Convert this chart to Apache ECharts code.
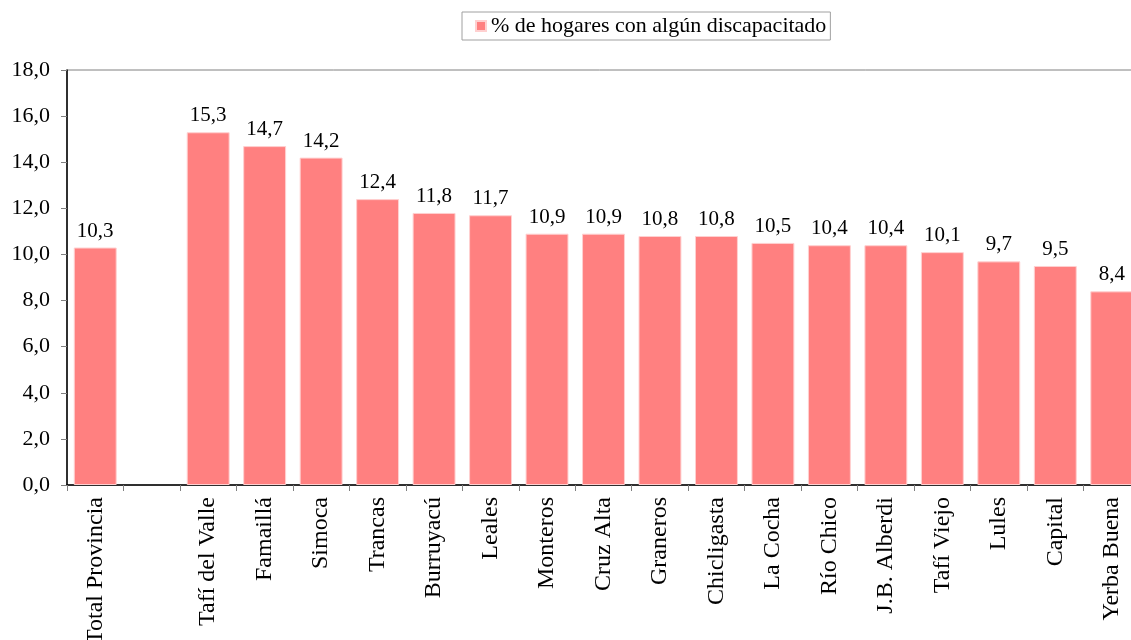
<!DOCTYPE html>
<html>
<head>
<meta charset="utf-8">
<script src="https://cdn.jsdelivr.net/npm/echarts@6/dist/echarts.min.js"></script>
<style>html,body{margin:0;padding:0;background:#fff;}#c{width:1131px;height:640px;}</style>
</head>
<body>
<div id="c"></div>
<script>
const categories = ['Total Provincia', '', 'Tafí del Valle', 'Famaillá', 'Simoca', 'Trancas', 'Burruyacú', 'Leales', 'Monteros', 'Cruz Alta', 'Graneros', 'Chicligasta', 'La Cocha', 'Río Chico', 'J.B. Alberdi', 'Tafí Viejo', 'Lules', 'Capital', 'Yerba Buena'];
const values = [10.3, null, 15.3, 14.7, 14.2, 12.4, 11.8, 11.7, 10.9, 10.9, 10.8, 10.8, 10.5, 10.4, 10.4, 10.1, 9.7, 9.5, 8.4];
const seriesName = '% de hogares con algún discapacitado';

const font = 'Liberation Serif, Times New Roman, serif';
const fmt = v => Number(v).toFixed(1).replace('.', ',');
const chart = echarts.init(document.getElementById('c'), null, {renderer: 'canvas'});
chart.setOption({
  animation: false,
  backgroundColor: '#fff',
  textStyle: {fontFamily: font},
  legend: {
    left: 462, top: 12,
    padding: [3, 4, 3, 13],
    borderColor: '#a0a0a0', borderWidth: 1,
    itemWidth: 10, itemHeight: 10,
    itemGap: 6,
    textStyle: {fontFamily: font, fontSize: 22, color: '#000'},
    data: [{name: seriesName, icon: 'rect'}]
  },
  grid: {left: 67, top: 70, right: -9, bottom: 155, show: true, borderColor: '#808080', borderWidth: 1, outerBoundsMode: 'none', containLabel: false},
  xAxis: {
    type: 'category',
    data: categories,
    axisLine: {lineStyle: {color: '#000', width: 1.5}},
    axisTick: {show: true, alignWithLabel: false, length: 6, lineStyle: {color: '#808080'}},
    axisLabel: {rotate: 90, interval: 0, fontFamily: font, fontSize: 24, color: '#000', margin: 12}
  },
  yAxis: {
    type: 'value',
    min: 0, max: 18, interval: 2,
    axisLine: {show: true, lineStyle: {color: '#000', width: 1.5}},
    axisTick: {show: true, length: 6, lineStyle: {color: '#808080'}},
    splitLine: {show: false},
    axisLabel: {fontFamily: font, fontSize: 22, color: '#000', margin: 17, formatter: v => fmt(v)}
  },
  series: [{
    name: seriesName,
    type: 'bar',
    data: values,
    barWidth: '76%',
    itemStyle: {color: '#FF8080', borderColor: '#ffd0d0', borderWidth: 1},
    label: {show: true, position: 'top', distance: 6, fontFamily: font, fontSize: 21, color: '#000', formatter: p => fmt(p.value)}
  }]
});
</script>
</body>
</html>
